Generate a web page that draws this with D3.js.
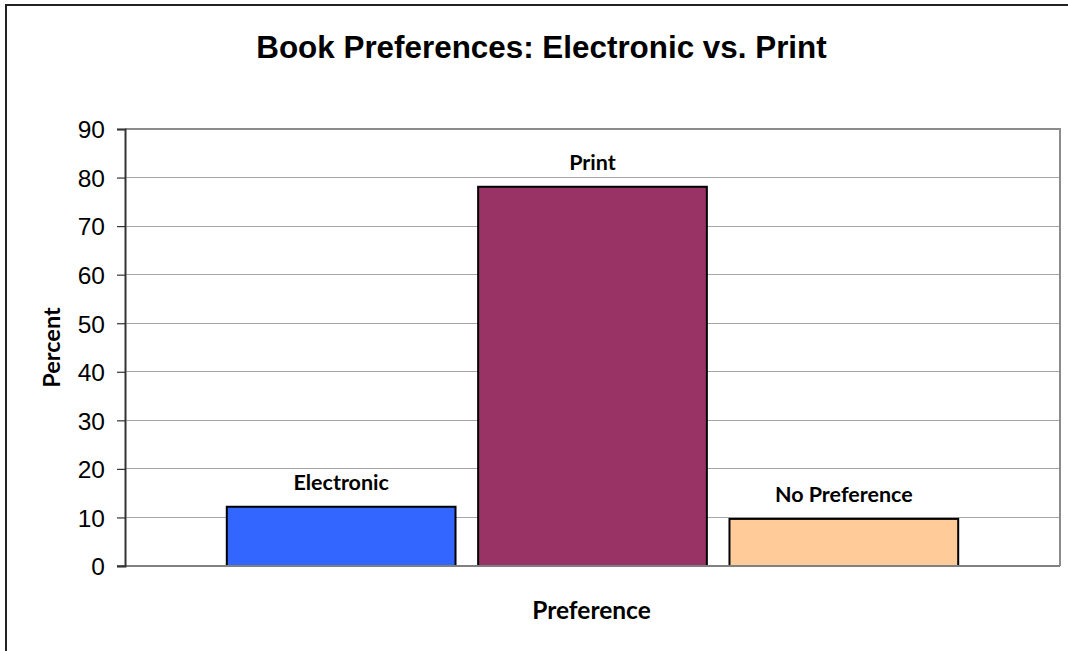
<!DOCTYPE html>
<html>
<head>
<meta charset="utf-8">
<script src="https://cdn.jsdelivr.net/npm/d3@7"></script>
<style>
  html, body { margin: 0; padding: 0; background: #fff; overflow: hidden; }
  svg { display: block; }
</style>
</head>
<body>
<svg id="chart" width="1068" height="651"></svg>
<script>
// Survey results: share of respondents by book format preference
const categories = ["Electronic", "Print", "No Preference"];
const percents = [12.2, 78.1, 9.7];
const barColors = ["#3366FF", "#993366", "#FFCC99"];
const yTicks = [0, 10, 20, 30, 40, 50, 60, 70, 80, 90];

const titleText = "Book Preferences: Electronic vs. Print";
const xTitle = "Preference";
const yTitle = "Percent";

const W = 1068, H = 651;
const plot = { left: 125, top: 129, right: 1060, bottom: 566 };
const labelFont = "Lato, 'Open Sans', sans-serif";
const numFont = "'Liberation Sans', Arial, sans-serif";

const svg = d3.select("#chart");

// outer chart frame (runs past the page at right and bottom)
svg.append("path")
  .attr("d", `M6,${H + 10}V5H${W + 10}`)
  .attr("fill", "none")
  .attr("stroke", "#222")
  .attr("stroke-width", 2);

const y = d3.scaleLinear().domain([0, 90]).range([plot.bottom, plot.top]);
const x = d3.scaleBand()
  .domain(categories)
  .range([plot.left, plot.right])
  .paddingInner(0.09)
  .paddingOuter(0.405);

// gridlines
svg.append("g")
  .selectAll("line")
  .data(yTicks.filter(t => t > 0))
  .join("line")
  .attr("x1", plot.left).attr("x2", plot.right)
  .attr("y1", d => y(d)).attr("y2", d => y(d))
  .attr("stroke", "#a6a6a6")
  .attr("stroke-width", 1)
  .attr("shape-rendering", "crispEdges");

// plot area frame: top and right edges
svg.append("path")
  .attr("d", `M${plot.left},${plot.top}H${plot.right}V${plot.bottom}`)
  .attr("fill", "none")
  .attr("stroke", "#8c8c8c")
  .attr("stroke-width", 2);

// bars
svg.append("g")
  .selectAll("rect")
  .data(categories)
  .join("rect")
  .attr("x", d => x(d))
  .attr("y", (d, i) => y(percents[i]))
  .attr("width", x.bandwidth())
  .attr("height", (d, i) => y(0) - y(percents[i]))
  .attr("fill", (d, i) => barColors[i])
  .attr("stroke", "#000")
  .attr("stroke-width", 2);

// x axis baseline
svg.append("line")
  .attr("x1", plot.left - 8).attr("x2", plot.right)
  .attr("y1", plot.bottom).attr("y2", plot.bottom)
  .attr("stroke", "#808080")
  .attr("stroke-width", 2);

// y axis
const yAxis = d3.axisLeft(y)
  .tickValues(yTicks)
  .tickSize(8)
  .tickPadding(12)
  .tickFormat(d3.format("d"));

const gy = svg.append("g")
  .attr("transform", `translate(${plot.left},0)`)
  .call(yAxis);
gy.select(".domain")
  .attr("stroke", "#333")
  .attr("stroke-width", 2);
gy.selectAll(".tick line")
  .attr("stroke", "#333")
  .attr("stroke-width", 1.2);
gy.selectAll(".tick text")
  .attr("font-family", numFont)
  .attr("font-size", 24.5)
  .attr("fill", "#000")
  .attr("dy", "0.36em");

// data labels above bars
svg.append("g")
  .selectAll("text")
  .data(categories)
  .join("text")
  .attr("x", d => x(d) + x.bandwidth() / 2)
  .attr("y", (d, i) => y(percents[i]) - 17)
  .attr("text-anchor", "middle")
  .attr("font-family", labelFont)
  .attr("font-weight", "bold")
  .attr("font-size", 21.5)
  .attr("fill", "#000")
  .text(d => d);

// chart title
svg.append("text")
  .attr("x", 541.5).attr("y", 58)
  .attr("text-anchor", "middle")
  .attr("font-family", numFont)
  .attr("font-weight", "bold")
  .attr("font-size", 31.4)
  .attr("fill", "#000")
  .text(titleText);

// axis titles
svg.append("text")
  .attr("x", 591.5).attr("y", 619)
  .attr("text-anchor", "middle")
  .attr("font-family", labelFont)
  .attr("font-weight", "bold")
  .attr("font-size", 24.5)
  .attr("fill", "#000")
  .text(xTitle);

svg.append("text")
  .attr("transform", `translate(60,${(plot.top + plot.bottom) / 2}) rotate(-90)`)
  .attr("text-anchor", "middle")
  .attr("font-family", labelFont)
  .attr("font-weight", "bold")
  .attr("font-size", 23.5)
  .attr("fill", "#000")
  .text(yTitle);
</script>
</body>
</html>
